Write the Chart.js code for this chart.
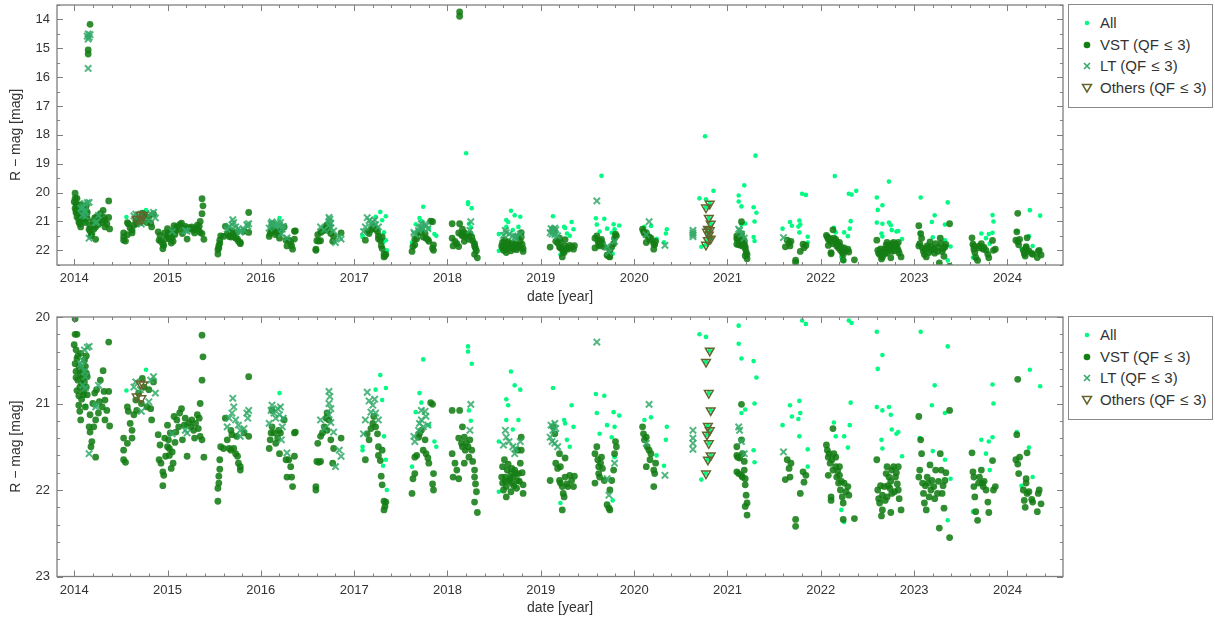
<!DOCTYPE html>
<html>
<head>
<meta charset="utf-8">
<script src="https://cdn.jsdelivr.net/npm/chart.js@4/dist/chart.umd.min.js"></script>
<style>
    body { margin: 0; background: #fff; width: 1215px; height: 620px; overflow: hidden; font-family: "Liberation Sans", sans-serif; color: #333; }
    canvas { position: absolute; left: 0; }
    .legend { position: absolute; left: 1068px; width: 145px; height: 104px; border: 1px solid #8a8a8a; box-sizing: border-box; background: #fff; }
    .legend .row { position: absolute; left: 0; height: 20px; line-height: 20px; font-size: 15px; white-space: nowrap; }
    .legend svg { position: absolute; left: 11px; top: 3px; }
    .legend .txt { position: absolute; left: 31px; }
    .rel { margin: 0 5px; }
</style>
</head>
<body>
<canvas id="topChart" width="1066" height="310" style="top:0"></canvas>
<canvas id="bottomChart" width="1066" height="310" style="top:310px"></canvas>
<div class="legend" id="legendTop" style="top:4px"></div>
<div class="legend" id="legendBottom" style="top:316px"></div>
<script>
// 観測データ [年, 等級]

// All（全データ）
const allPoints = [
    [2014.12,21.03],[2014.56,20.85],[2014.77,20.61],[2015.20,21.25],[2016.20,20.88],
    [2017.09,21.50],[2017.09,21.54],[2017.28,20.67],[2017.34,20.82],[2017.30,20.96],[2017.32,21.38],[2017.34,21.65],[2017.35,22.00],[2017.23,20.84],[2017.31,21.72],
    [2017.70,20.88],[2017.74,20.49],[2017.62,21.73],[2017.72,20.99],[2017.86,21.44],[2017.88,21.50],[2017.66,21.10],[2017.80,21.25],
    [2018.22,20.34],[2018.22,20.40],[2018.26,20.54],[2018.23,21.08],[2018.20,18.64],[2018.25,21.20],
    [2018.55,21.44],[2018.55,22.02],[2018.63,20.95],[2018.65,21.02],[2018.68,20.63],[2018.72,20.79],[2018.78,20.84],[2018.63,21.19],[2018.76,21.19],[2018.70,21.30],
    [2019.13,20.82],[2019.33,21.02],[2019.25,21.19],[2019.35,21.27],[2019.26,21.23],[2019.28,21.42],[2019.31,21.50],[2019.21,22.15],
    [2019.65,19.42],[2019.59,20.89],[2019.68,20.91],[2019.60,21.11],[2019.63,21.35],[2019.71,21.25],[2019.78,21.10],[2019.84,21.14],[2019.79,21.27],[2019.76,21.39],[2019.79,21.62],[2019.77,22.12],
    [2020.11,21.19],[2020.18,21.16],[2020.24,21.60],[2020.32,21.72],[2020.35,21.27],[2020.34,21.42],
    [2020.76,18.05],[2020.85,19.94],[2020.70,20.20],[2020.77,20.23],[2020.72,21.88],
    [2020.81,20.39],[2020.77,20.52],[2020.80,20.88],[2020.82,21.08],[2020.79,21.26],[2020.81,21.31],[2020.78,21.36],[2020.80,21.46],[2020.82,21.60],[2020.79,21.65],[2020.77,21.81],
    [2021.30,18.72],[2021.18,19.75],[2021.12,20.10],[2021.12,20.31],[2021.15,20.48],[2021.28,20.51],[2021.31,20.70],[2021.29,21.00],[2021.19,21.07],[2021.28,21.54],[2021.29,21.68],[2021.15,21.11],
    [2021.59,21.25],[2021.67,21.02],[2021.69,21.15],[2021.76,21.18],[2021.77,20.97],[2021.78,21.11],[2021.77,21.38],[2021.86,21.53],[2021.86,21.73],[2021.84,20.08],[2021.80,20.04],
    [2022.15,19.43],[2022.14,21.22],[2022.16,21.38],[2022.25,21.38],[2022.29,21.51],[2022.31,21.25],[2022.32,20.99],[2022.30,20.04],[2022.33,20.07],[2022.38,19.94],[2022.25,22.37],[2022.22,22.23],
    [2022.73,19.62],[2022.60,20.17],[2022.66,20.44],[2022.61,20.60],[2022.60,21.04],[2022.66,21.08],[2022.73,21.04],[2022.75,21.13],[2022.76,21.30],[2022.81,21.35],[2022.83,21.33],[2022.65,21.42],[2022.66,21.52],[2022.87,21.61],
    [2023.07,20.17],[2023.19,21.02],[2023.22,20.79],[2023.36,20.34],[2023.33,21.11],[2023.33,21.65],[2023.39,21.87],[2023.36,22.35],[2023.06,21.40],[2023.20,21.55],
    [2023.72,21.42],[2023.77,21.58],[2023.84,20.78],[2023.85,21.00],[2023.84,21.39],[2023.80,21.44],[2023.81,21.77],[2023.63,22.25],
    [2024.10,21.33],[2024.24,20.61],[2024.35,20.80],[2024.23,21.51],[2024.27,21.85],[2024.15,21.95]
];

// VST (QF <= 3)
const vstPoints = [
    [2014.17,14.17],[2014.15,15.06],[2014.15,15.20],
    [2014.01,20.02],[2014.01,20.20],[2014.03,20.20],[2014.00,20.32],[2014.02,20.38],[2014.03,20.48],[2014.01,20.54],[2014.05,20.57],[2014.02,20.63],[2014.07,20.67],
    [2014.04,20.73],[2014.08,20.77],[2014.06,20.81],[2014.10,20.86],[2014.05,20.91],[2014.12,20.57],[2014.14,20.69],[2014.13,20.81],[2014.14,20.90],[2014.05,21.02],
    [2014.06,21.09],[2014.07,21.19],[2014.16,21.27],[2014.17,21.33],[2014.19,21.44],[2014.18,21.50],[2014.23,21.62],[2014.21,21.27],[2014.23,21.19],[2014.22,20.88],
    [2014.24,20.84],[2014.27,20.98],[2014.30,21.04],[2014.31,20.62],[2014.28,20.73],[2014.32,20.86],[2014.33,20.96],[2014.35,21.08],[2014.37,20.86],[2014.33,21.19],
    [2014.38,21.26],[2014.37,20.29],[2014.12,21.04],[2014.17,21.13],[2014.20,21.00],[2014.26,21.11],[2014.09,20.60],[2014.11,20.75],[2014.13,20.45],[2014.08,20.95],[2014.03,20.85],
    [2014.04,20.45],[2014.06,20.62],[2014.09,20.70],[2014.10,20.90],[2014.02,20.70],[2014.11,20.50],[2014.07,20.42],[2014.13,20.65],
    [2014.53,21.40],[2014.53,21.54],[2014.53,21.65],[2014.55,21.68],[2014.57,21.04],[2014.58,21.09],[2014.60,21.23],[2014.62,21.31],[2014.57,21.46],[2014.62,21.40],
    [2014.64,21.13],[2014.66,20.96],[2014.67,21.08],[2014.69,20.88],[2014.72,21.00],[2014.78,21.04],[2014.82,21.06],[2014.83,21.19],[2014.80,20.84],[2014.75,20.81],[2014.85,20.75],[2014.73,20.71],
    [2014.90,21.36],[2014.92,21.48],[2014.91,21.65],[2014.93,21.69],[2014.95,21.79],[2014.96,21.83],[2014.95,21.95],[2014.98,21.61],[2015.00,21.50],[2015.01,21.42],
    [2015.00,21.25],[2015.03,21.34],[2015.05,21.56],[2015.06,21.69],[2015.07,21.15],[2015.10,21.19],[2015.13,21.11],[2015.15,21.06],[2015.12,21.27],[2015.16,21.42],
    [2015.19,21.17],[2015.21,21.61],[2015.25,21.27],[2015.26,21.19],[2015.28,21.31],[2015.30,21.23],[2015.32,21.13],[2015.34,21.17],[2015.35,21.38],[2015.37,21.42],
    [2015.39,21.62],[2015.35,21.00],[2015.37,20.73],[2015.38,20.46],[2015.37,20.21],[2015.02,21.60],[2015.08,21.45],[2015.04,21.75],
    [2014.97,21.40],[2015.02,21.52],[2015.09,21.33],[2015.23,21.22],[2015.29,21.40],[2015.33,21.29],[2015.18,21.25],
    [2015.54,22.13],[2015.54,21.98],[2015.55,21.92],[2015.55,21.84],[2015.56,21.76],[2015.56,21.65],[2015.57,21.50],[2015.60,21.52],[2015.62,21.17],[2015.64,21.42],
    [2015.66,21.52],[2015.68,21.54],[2015.71,21.52],[2015.73,21.58],[2015.75,21.61],[2015.76,21.69],[2015.78,21.73],[2015.78,21.77],[2015.74,21.38],[2015.69,21.36],
    [2015.82,21.34],[2015.87,20.69],[2015.87,21.38],[2015.68,21.31],
    [2016.10,21.42],[2016.09,21.52],[2016.11,21.34],[2016.12,21.27],[2016.14,21.34],[2016.16,21.46],[2016.18,21.40],[2016.19,21.31],[2016.21,21.34],[2016.20,21.58],
    [2016.25,21.19],[2016.27,21.65],[2016.30,21.65],[2016.32,21.73],[2016.28,21.85],[2016.33,21.85],[2016.34,21.96],[2016.36,21.61],[2016.36,21.34],[2016.37,21.33],[2016.12,21.08],
    [2016.59,21.96],[2016.59,22.00],[2016.60,21.67],[2016.62,21.68],[2016.64,21.67],[2016.61,21.46],[2016.64,21.38],[2016.66,21.34],[2016.68,21.27],[2016.70,21.17],
    [2016.71,21.11],[2016.73,21.19],[2016.71,21.31],[2016.75,21.42],[2016.77,21.69],[2016.78,21.52],[2016.86,21.40],
    [2017.12,21.65],[2017.16,21.42],[2017.20,21.23],[2017.23,21.27],[2017.21,21.15],[2017.25,21.35],[2017.26,21.50],[2017.26,21.60],[2017.28,21.66],[2017.30,21.54],
    [2017.29,21.84],[2017.32,22.13],[2017.33,22.19],[2017.32,22.23],[2017.34,22.14],[2017.30,21.94],[2017.14,21.35],[2017.18,21.29],
    [2017.62,22.04],[2017.63,21.87],[2017.65,21.81],[2017.65,21.62],[2017.67,21.60],[2017.69,21.39],[2017.70,21.35],[2017.72,21.31],[2017.76,21.42],[2017.77,21.58],
    [2017.79,21.63],[2017.80,21.69],[2017.82,20.99],[2017.84,21.01],[2017.85,21.81],[2017.84,21.93],[2017.85,22.00],[2017.74,21.54],
    [2018.13,13.74],[2018.13,13.89],
    [2018.05,21.08],[2018.05,21.58],[2018.06,21.85],[2018.08,21.69],[2018.10,21.77],[2018.12,21.87],[2018.12,21.40],[2018.13,21.08],[2018.15,21.46],[2018.16,21.50],
    [2018.18,21.39],[2018.18,21.69],[2018.19,21.54],[2018.20,21.46],[2018.22,21.50],[2018.23,21.62],[2018.24,21.42],[2018.26,21.54],[2018.27,21.67],[2018.29,21.77],
    [2018.29,21.85],[2018.30,21.93],[2018.31,22.02],[2018.29,22.14],[2018.32,22.26],[2018.16,21.27],
    [2018.59,21.73],[2018.59,21.92],[2018.60,22.00],[2018.62,21.85],[2018.63,21.96],[2018.64,21.77],[2018.66,21.89],[2018.68,21.81],[2018.69,21.92],[2018.70,21.85],
    [2018.72,21.77],[2018.73,21.81],[2018.75,21.89],[2018.76,21.81],[2018.78,21.69],[2018.79,21.39],[2018.81,21.94],[2018.81,22.04],[2018.79,21.54],[2018.63,22.08],
    [2018.68,22.02],[2018.61,21.65],[2018.75,21.54],[2018.65,21.70],[2018.71,21.95],[2018.58,21.85],
    [2018.62,21.90],[2018.67,21.87],[2018.74,21.98],[2018.77,21.90],[2018.69,21.75],[2018.80,21.80],
    [2019.10,21.89],[2019.13,21.27],[2019.15,21.35],[2019.16,21.69],[2019.18,21.75],[2019.20,21.58],[2019.20,21.89],[2019.21,21.92],[2019.23,21.96],[2019.24,22.04],
    [2019.23,22.23],[2019.25,22.08],[2019.26,21.85],[2019.28,21.93],[2019.29,21.96],[2019.31,21.83],[2019.33,21.89],[2019.35,21.96],[2019.36,21.84],[2019.26,21.63],[2019.21,21.73],
    [2019.58,21.92],[2019.58,21.58],[2019.60,21.50],[2019.61,21.65],[2019.62,21.73],[2019.62,21.81],[2019.63,21.85],[2019.64,21.69],[2019.65,21.62],[2019.66,21.75],
    [2019.68,21.89],[2019.71,22.17],[2019.73,22.21],[2019.74,22.23],[2019.74,22.00],[2019.76,21.89],[2019.78,21.77],[2019.79,21.58],[2019.80,21.44],[2019.81,21.50],
    [2020.09,21.27],[2020.10,21.35],[2020.11,21.42],[2020.13,21.39],[2020.14,21.50],[2020.16,21.54],[2020.17,21.65],[2020.18,21.58],[2020.13,21.73],[2020.21,21.77],
    [2020.22,21.81],[2020.21,21.96],[2020.23,21.69],
    [2021.15,21.01],[2021.10,21.50],[2021.10,21.60],[2021.11,21.62],[2021.13,21.63],[2021.15,21.42],[2021.16,21.58],[2021.18,21.67],[2021.10,21.79],[2021.12,21.81],
    [2021.15,21.83],[2021.16,21.85],[2021.19,21.87],[2021.19,21.94],[2021.20,22.06],[2021.21,22.15],[2021.21,22.29],[2021.19,22.19],[2021.18,21.77],
    [2021.62,21.88],[2021.64,21.65],[2021.66,21.75],[2021.67,21.85],[2021.68,21.69],[2021.73,22.34],[2021.73,22.42],[2021.78,22.04],[2021.81,21.79],[2021.82,21.91],[2021.84,21.83],
    [2022.06,21.48],[2022.07,21.54],[2022.08,21.62],[2022.10,21.69],[2022.08,21.83],[2022.11,22.08],[2022.11,22.12],[2022.13,21.29],[2022.14,21.58],[2022.16,21.62],
    [2022.16,21.73],[2022.17,21.85],[2022.19,21.92],[2022.20,21.83],[2022.21,22.00],[2022.23,22.08],[2022.24,22.15],[2022.25,21.92],[2022.27,22.02],[2022.29,21.96],
    [2022.30,22.06],[2022.24,22.34],[2022.36,22.33],[2022.20,21.73],[2022.13,21.77],
    [2022.09,21.58],[2022.12,21.65],[2022.18,21.78],[2022.22,21.90],
    [2022.60,21.65],[2022.61,22.00],[2022.62,22.10],[2022.63,22.15],[2022.65,22.30],[2022.66,22.23],[2022.66,22.06],[2022.68,21.96],[2022.70,21.81],[2022.71,21.73],
    [2022.73,21.85],[2022.75,21.90],[2022.76,22.04],[2022.76,21.77],[2022.78,21.73],[2022.80,21.85],[2022.82,21.93],[2022.83,21.73],[2022.83,22.00],[2022.84,22.10],
    [2022.86,22.23],[2022.75,22.26],[2022.71,22.08],
    [2022.64,21.95],[2022.69,22.12],[2022.74,21.98],[2022.79,22.02],[2022.81,21.80],[2022.72,21.95],
    [2023.05,21.15],[2023.07,21.42],[2023.08,21.58],[2023.06,21.77],[2023.05,21.85],[2023.09,21.92],[2023.10,22.04],[2023.11,22.15],[2023.13,22.23],[2023.14,21.85],
    [2023.15,21.92],[2023.17,21.71],[2023.18,22.00],[2023.19,21.89],[2023.21,21.96],[2023.23,21.77],[2023.25,22.04],[2023.27,22.44],[2023.28,21.58],[2023.29,21.77],
    [2023.30,22.04],[2023.32,22.21],[2023.33,21.89],[2023.38,21.08],[2023.38,22.55],[2023.34,21.80],
    [2023.12,21.95],[2023.16,22.08],[2023.22,22.10],[2023.26,21.90],[2023.31,21.95],
    [2023.62,21.57],[2023.63,21.79],[2023.64,21.85],[2023.64,21.96],[2023.65,22.08],[2023.66,22.25],[2023.68,22.35],[2023.69,21.92],[2023.70,21.85],[2023.72,21.77],
    [2023.73,21.92],[2023.74,21.96],[2023.75,21.90],[2023.77,22.00],[2023.79,22.14],[2023.80,22.26],[2023.84,21.66],[2023.85,22.00],[2023.87,21.96],
    [2024.11,20.72],[2024.10,21.36],[2024.09,21.65],[2024.11,21.70],[2024.13,21.62],[2024.12,21.81],[2024.17,22.00],[2024.18,22.12],[2024.19,22.20],[2024.20,21.92],
    [2024.20,21.87],[2024.21,22.04],[2024.21,21.57],[2024.23,22.02],[2024.26,22.11],[2024.27,22.14],[2024.32,22.25],[2024.33,22.04],[2024.34,22.00],[2024.36,22.16]
];

// LT (QF <= 3)
const ltPoints = [
    [2014.15,14.50],[2014.14,14.58],[2014.16,14.62],[2014.15,14.68],[2014.17,14.53],[2014.15,15.70],
    [2014.14,20.35],[2014.11,20.38],[2014.09,20.50],[2014.08,20.57],[2014.12,20.69],[2014.09,20.79],[2014.12,20.82],[2014.11,20.63],[2014.24,21.02],[2014.23,21.04],
    [2014.26,20.79],[2014.16,21.58],[2014.07,20.54],[2014.16,20.34],
    [2014.64,20.81],[2014.66,20.75],[2014.71,20.84],[2014.72,21.09],[2014.82,20.73],[2014.85,20.69],[2014.87,20.88],[2014.80,20.98],
    [2015.05,21.35],[2015.19,21.31],[2015.21,21.34],
    [2015.70,20.94],[2015.71,21.04],[2015.69,21.11],[2015.66,21.17],[2015.64,21.27],[2015.73,21.19],[2015.76,21.25],[2015.78,21.31],[2015.82,21.29],[2015.85,21.11],
    [2015.87,21.08],[2015.86,21.17],[2015.78,21.38],
    [2016.11,21.08],[2016.12,21.02],[2016.14,21.11],[2016.16,21.17],[2016.18,21.06],[2016.20,21.13],[2016.21,21.04],[2016.24,21.17],[2016.23,21.27],[2016.22,21.42],
    [2016.28,21.57],[2016.09,21.23],
    [2016.73,20.86],[2016.74,20.92],[2016.73,21.00],[2016.75,21.06],[2016.73,21.13],[2016.68,21.29],[2016.64,21.19],[2016.78,21.33],[2016.84,21.54],[2016.86,21.61],
    [2016.80,21.73],[2016.75,21.22],
    [2017.14,20.87],[2017.16,20.97],[2017.12,21.19],[2017.10,21.35],[2017.20,21.02],[2017.23,21.11],[2017.26,21.19],[2017.22,20.95],[2017.18,21.10],
    [2017.64,21.38],[2017.65,21.44],[2017.70,21.23],[2017.72,21.19],[2017.74,21.27],[2017.76,21.09],[2017.77,21.15],[2017.79,21.25],[2017.72,21.08],[2017.69,21.31],
    [2018.25,21.01],[2018.24,21.31],
    [2018.62,21.31],[2018.63,21.39],[2018.60,21.48],[2018.66,21.44],[2018.70,21.50],[2018.72,21.58],[2018.73,21.52],[2018.78,21.44],
    [2019.11,21.25],[2019.13,21.31],[2019.15,21.23],[2019.16,21.29],[2019.12,21.44],[2019.15,21.46],[2019.18,21.50],[2019.10,21.39],
    [2019.60,20.29],[2019.71,21.87],[2019.73,22.06],[2019.79,21.69],
    [2020.16,21.01],[2020.13,21.46],[2020.33,21.83],
    [2020.63,21.31],[2020.63,21.40],[2020.63,21.46],[2020.63,21.53],
    [2021.12,21.27],[2021.13,21.31],[2021.15,21.44],[2021.18,21.58],
    [2021.60,21.56]
];

// Others (QF <= 3)
const otherPoints = [
    [2014.71,20.77],[2014.74,20.78],[2014.67,20.92],[2014.72,20.94],
    [2020.81,20.39],[2020.77,20.52],[2020.80,20.88],[2020.82,21.08],[2020.79,21.26],[2020.81,21.31],
    [2020.78,21.36],[2020.80,21.46],[2020.82,21.60],[2020.79,21.65],[2020.77,21.81]
];

// 軸の範囲
const xRange = [2013.816, 2024.595];
const topRange = [13.5, 22.51];
const bottomRange = [20, 23];

const FONT = '"Liberation Sans", sans-serif';
const TEXT = '#333';

// 枠と目盛り（内向き、四辺）
const frameTicks = {
    id: 'frameTicks',
    afterDraw(chart, args, opts) {
        const ctx = chart.ctx;
        const a = chart.chartArea;
        const xs = chart.scales.x;
        const ys = chart.scales.y;
        ctx.save();
        ctx.strokeStyle = '#7f7f7f';
        ctx.lineWidth = 1;
        ctx.beginPath();
        // x 目盛り
        for (let i = Math.ceil(xs.min / opts.xMinor - 1e-6); i * opts.xMinor <= xs.max + 1e-6; i++) {
            const v = i * opts.xMinor;
            const len = Math.abs(v - Math.round(v)) < 1e-6 ? 6 : 3;
            const px = Math.round(xs.getPixelForValue(v)) + 0.5;
            ctx.moveTo(px, a.bottom); ctx.lineTo(px, a.bottom - len);
            ctx.moveTo(px, a.top); ctx.lineTo(px, a.top + len);
        }
        // y 目盛り
        for (let i = Math.ceil(ys.min / opts.yMinor - 1e-6); i * opts.yMinor <= ys.max + 1e-6; i++) {
            const v = i * opts.yMinor;
            const len = Math.abs(v - Math.round(v)) < 1e-6 ? 6 : 3;
            const py = Math.round(ys.getPixelForValue(v)) + 0.5;
            ctx.moveTo(a.left, py); ctx.lineTo(a.left + len, py);
            ctx.moveTo(a.right, py); ctx.lineTo(a.right - len, py);
        }
        ctx.stroke();
        ctx.lineWidth = 1.3;
        ctx.strokeRect(a.left, a.top, a.right - a.left, a.bottom - a.top);
        ctx.restore();
    }
};

const toXY = list => list.map(p => ({ x: p[0], y: p[1] }));

// データセット作成
function buildDatasets() {
    return [
        { label: 'All', data: toXY(allPoints), order: 4, pointRadius: 2.3, pointBorderWidth: 0,
          backgroundColor: 'rgb(0,250,130)', borderColor: 'rgb(0,250,130)' },
        { label: 'VST (QF ≤ 3)', data: toXY(vstPoints), order: 3, pointRadius: 3.4, pointBorderWidth: 0,
          backgroundColor: 'rgba(20,125,20,0.88)', borderColor: 'rgba(20,125,20,0.88)' },
        { label: 'LT (QF ≤ 3)', data: toXY(ltPoints), order: 2, pointStyle: 'crossRot', pointRadius: 4.5, pointBorderWidth: 2,
          backgroundColor: 'rgba(50,170,105,0.85)', borderColor: 'rgba(50,170,105,0.85)' },
        { label: 'Others (QF ≤ 3)', data: toXY(otherPoints), order: 1, pointStyle: 'triangle', rotation: 180, pointRadius: 5, pointBorderWidth: 1.5,
          backgroundColor: 'rgba(0,0,0,0)', borderColor: 'rgb(100,100,45)' }
    ];
}

// パネル作成
function createPanel(canvasId, yRange, yMinor, padTop, xHeight, titlePad) {
    const ctx = document.getElementById(canvasId).getContext('2d');
    return new Chart(ctx, {
        type: 'scatter',
        data: { datasets: buildDatasets() },
        options: {
            responsive: false,
            animation: false,
            events: [],
            layout: { autoPadding: false, padding: { top: padTop, right: 3, left: 0, bottom: 0 } },
            plugins: {
                legend: { display: false },
                tooltip: { enabled: false },
                frameTicks: { xMinor: 0.2, yMinor: yMinor }
            },
            scales: {
                x: {
                    type: 'linear', min: xRange[0], max: xRange[1],
                    grid: { display: false, drawTicks: false }, border: { display: false },
                    ticks: { stepSize: 1, includeBounds: false, autoSkip: false, maxRotation: 0, padding: 6,
                             color: TEXT, font: { family: FONT, size: 13 }, callback: v => String(v) },
                    title: { display: true, text: 'date [year]', color: TEXT, font: { family: FONT, size: 14 },
                             padding: { top: 0, bottom: titlePad } },
                    afterFit: s => { s.height = xHeight; s.paddingLeft = 0; s.paddingRight = 0; }
                },
                y: {
                    type: 'linear', reverse: true, min: yRange[0], max: yRange[1],
                    grid: { display: false, drawTicks: false }, border: { display: false },
                    ticks: { stepSize: 1, includeBounds: false, padding: 7,
                             color: TEXT, font: { family: FONT, size: 13 }, callback: v => String(v) },
                    title: { display: true, text: 'R − mag [mag]', color: TEXT, font: { family: FONT, size: 14 },
                             padding: { top: 8, bottom: 0 } },
                    afterFit: s => { s.width = 57; s.paddingTop = 0; s.paddingBottom = 0; }
                }
            }
        },
        plugins: [frameTicks]
    });
}

// 凡例（HTML）
function buildLegend(id) {
    const box = document.getElementById(id);
    const markers = [
        '<svg width="14" height="14"><circle cx="7" cy="7" r="2.3" fill="rgb(0,250,130)"/></svg>',
        '<svg width="14" height="14"><circle cx="7" cy="7" r="3.3" fill="rgb(20,125,20)"/></svg>',
        '<svg width="14" height="14"><path d="M4 4L10 10M10 4L4 10" stroke="rgb(50,170,105)" stroke-width="1.6"/></svg>',
        '<svg width="14" height="14"><path d="M2.5 3.5L11.5 3.5L7 11Z" fill="none" stroke="rgb(100,100,45)" stroke-width="1.5"/></svg>'
    ];
    const labels = ['All', 'VST (QF<span class="rel">≤</span>3)', 'LT (QF<span class="rel">≤</span>3)', 'Others (QF<span class="rel">≤</span>3)'];
    labels.forEach((text, i) => {
        const row = document.createElement('div');
        row.className = 'row';
        row.style.top = (8 + i * 21.7) + 'px';
        row.innerHTML = markers[i] + '<span class="txt">' + text + '</span>';
        box.appendChild(row);
    });
}

createPanel('topChart', topRange, 0.5, 5, 45, 4);
createPanel('bottomChart', bottomRange, 0.2, 7, 43.5, 3);
buildLegend('legendTop');
buildLegend('legendBottom');
</script>
</body>
</html>
